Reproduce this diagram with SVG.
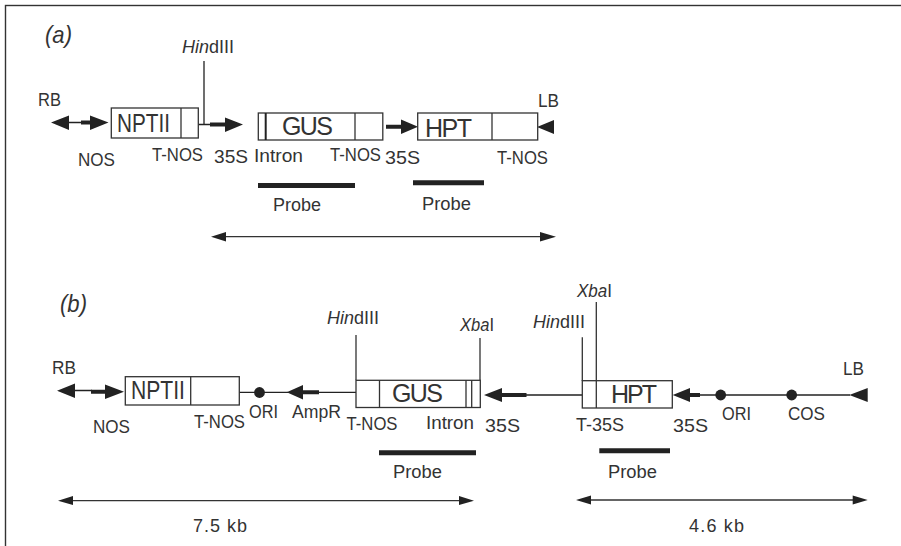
<svg xmlns="http://www.w3.org/2000/svg" width="901" height="546" viewBox="0 0 901 546">
<style>
text{font-family:"Liberation Sans",Arial,sans-serif;font-size:18px;fill:#333}
.g{font-size:25px}
.p{font-size:24px;font-style:italic}
.i{font-style:italic}
.b{fill:#fff;stroke:#333;stroke-width:1.3}
.l{fill:none;stroke:#333;stroke-width:1.3}
.t{fill:none;stroke:#222;stroke-width:1.3}
.k{fill:none;stroke:#222;stroke-width:4}
.w{fill:none;stroke:#222;stroke-width:5}
.h{fill:#222}
</style>
<rect x="5.500" y="5.500" width="900" height="550" fill="none" stroke="#333" stroke-width="1.4"/>
<g id="connectors">
<path class="t" d="M65 122.500H85M198 124.500H212M204 61V124.500"/>
<path class="k" d="M81 122.500H92M210 124.500H227M386 126.700H402"/>
<path class="h" d="M51 122.500L69 115.500V130ZM108.500 122.500L90 115.500V130ZM243 124.500L225 117.500V132ZM418 126.700L401 119.500V134ZM537 127L554 120V134Z"/>
<path class="l" d="M224 236.700H542"/>
<path class="h" d="M211 236.700L226 232V241.500ZM556 236.700L540 232V241.500Z"/>
<path class="w" d="M258 185.500H355M413 182.700H484"/>
<path class="t" d="M70 390.500H92M239 392.300H288M318 392.300H356M526 395H582"/>
<path class="k" d="M91 391.700H107M303 392.300H319M500 395H526.500M688 395H700"/>
<path class="h" d="M57 390.700L75 383.500V398ZM124 391.700L105 384.500V399ZM286.700 392.300L303 385V399.500ZM484 395L502 388V402ZM672.700 395L690 388V402ZM849.300 395L867.700 388V402Z"/>
<circle class="h" cx="259.500" cy="392.500" r="5.400"/>
<circle class="h" cx="720.700" cy="395" r="5.400"/>
<circle class="h" cx="791.700" cy="395" r="5.400"/>
<path class="t" d="M700 395H850"/>
<path class="l" d="M70 500.700H462M588 500H855"/>
<path class="h" d="M58 500.700L73 496V505ZM474 500.700L459 496V505ZM576 500L591 495.500V504.500ZM867.700 500L852.700 495.500V504.500Z"/>
<path class="w" d="M379 452.700H476M599.300 450.700H670"/>
<path class="l" d="M356 335V380M480 338V380M582.300 337.300V381M596.300 302V408"/>
</g>
<g id="node-nptii-a"><rect class="b" x="111.300" y="108" width="87" height="30"/><path class="l" d="M181 108V138"/><text class="g" x="117" y="131.500" textLength="53" lengthAdjust="spacingAndGlyphs">NPTII</text></g>
<g id="node-gus-a"><rect class="b" x="258.300" y="113" width="124.500" height="27"/><path d="M265.700 113V140" fill="none" stroke="#222" stroke-width="2"/><path class="l" d="M355 113V140"/><text class="g" x="282" y="135" textLength="51">GUS</text></g>
<g id="node-hpt-a"><rect class="b" x="417.700" y="113" width="120" height="27"/><path class="l" d="M492 113V140"/><text class="g" x="425" y="137" textLength="47">HPT</text></g>
<g id="node-nptii-b"><rect class="b" x="125.300" y="376.700" width="114" height="28.300"/><path class="l" d="M190.700 376.700V405"/><text class="g" x="131" y="399" textLength="54" lengthAdjust="spacingAndGlyphs">NPTII</text></g>
<g id="node-gus-b"><rect class="b" x="356" y="380.300" width="124.300" height="27.200"/><path class="l" d="M379.500 380.300V407.500M466 380.300V407.500M471.700 380.300V407.500"/><text class="g" x="392" y="402" textLength="51">GUS</text></g>
<g id="node-hpt-b"><rect class="b" x="582.300" y="380.700" width="90" height="27.300"/><path class="l" d="M596.300 380.700V408"/><text class="g" x="611" y="403" textLength="46">HPT</text></g>
<g id="labels" lengthAdjust="spacingAndGlyphs">
<text class="p" x="45" y="43" textLength="27" lengthAdjust="spacingAndGlyphs">(a)</text>
<text class="p" x="60" y="312" textLength="27" lengthAdjust="spacingAndGlyphs">(b)</text>
<text x="182" y="53" textLength="52" lengthAdjust="spacingAndGlyphs"><tspan class="i">Hin</tspan>dIII</text>
<text x="38" y="106" textLength="23" lengthAdjust="spacingAndGlyphs">RB</text>
<text x="78" y="166" textLength="37" lengthAdjust="spacingAndGlyphs">NOS</text>
<text x="152" y="160.500" textLength="51" lengthAdjust="spacingAndGlyphs">T-NOS</text>
<text x="214" y="163" textLength="34" lengthAdjust="spacingAndGlyphs">35S</text>
<text x="254" y="162" textLength="49" lengthAdjust="spacingAndGlyphs">Intron</text>
<text x="330" y="161" textLength="51" lengthAdjust="spacingAndGlyphs">T-NOS</text>
<text x="385" y="164" textLength="35" lengthAdjust="spacingAndGlyphs">35S</text>
<text x="497" y="164" textLength="51" lengthAdjust="spacingAndGlyphs">T-NOS</text>
<text x="538" y="107" textLength="21" lengthAdjust="spacingAndGlyphs">LB</text>
<text x="273" y="211" textLength="48" lengthAdjust="spacingAndGlyphs">Probe</text>
<text x="422" y="210" textLength="49" lengthAdjust="spacingAndGlyphs">Probe</text>
<text x="52" y="374" textLength="24" lengthAdjust="spacingAndGlyphs">RB</text>
<text x="93" y="433" textLength="37" lengthAdjust="spacingAndGlyphs">NOS</text>
<text x="194" y="428" textLength="51" lengthAdjust="spacingAndGlyphs">T-NOS</text>
<text x="249" y="418" textLength="29" lengthAdjust="spacingAndGlyphs">ORI</text>
<text x="292" y="418" textLength="49" lengthAdjust="spacingAndGlyphs">AmpR</text>
<text x="346.500" y="430" textLength="51" lengthAdjust="spacingAndGlyphs">T-NOS</text>
<text x="426" y="429" textLength="48" lengthAdjust="spacingAndGlyphs">Intron</text>
<text x="485" y="432" textLength="35" lengthAdjust="spacingAndGlyphs">35S</text>
<text x="327" y="324" textLength="52" lengthAdjust="spacingAndGlyphs"><tspan class="i">Hin</tspan>dIII</text>
<text x="460" y="331" textLength="34" lengthAdjust="spacingAndGlyphs"><tspan class="i">Xba</tspan>I</text>
<text x="533" y="328" textLength="52" lengthAdjust="spacingAndGlyphs"><tspan class="i">Hin</tspan>dIII</text>
<text x="577" y="297" textLength="35" lengthAdjust="spacingAndGlyphs"><tspan class="i">Xba</tspan>I</text>
<text x="576" y="431" textLength="48" lengthAdjust="spacingAndGlyphs">T-35S</text>
<text x="673" y="432" textLength="35" lengthAdjust="spacingAndGlyphs">35S</text>
<text x="722" y="420" textLength="29" lengthAdjust="spacingAndGlyphs">ORI</text>
<text x="788" y="420" textLength="37" lengthAdjust="spacingAndGlyphs">COS</text>
<text x="843" y="375" textLength="21" lengthAdjust="spacingAndGlyphs">LB</text>
<text x="393" y="478" textLength="49" lengthAdjust="spacingAndGlyphs">Probe</text>
<text x="608" y="478" textLength="49" lengthAdjust="spacingAndGlyphs">Probe</text>
<text x="193" y="532" textLength="54">7.5 kb</text>
<text x="689" y="532" textLength="55">4.6 kb</text>
</g>
</svg>
